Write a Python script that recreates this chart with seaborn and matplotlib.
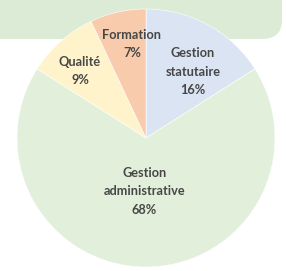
import matplotlib
matplotlib.use("Agg")
import matplotlib.pyplot as plt
from matplotlib.patches import FancyBboxPatch
import seaborn as sns

sns.set_theme(style="white")
plt.rcParams['font.family'] = ['Lato', 'DejaVu Sans']

categories = ["Gestion\nstatutaire", "Gestion\nadministrative", "Qualité", "Formation"]
values = [16, 68, 9, 7]
colors = ["#dbe4f3", "#e2efda", "#fff3cc", "#f8cbad"]
# label centres in pie-radius units (layout only)
label_pos = [(0.364, 0.512), (-0.012, -0.411), (-0.512, 0.519), (-0.109, 0.729)]

W, H = 286, 271
fig = plt.figure(figsize=(W / 100, H / 100), dpi=100)
fig.patch.set_facecolor("white")

# background rounded box (behind pie)
box = FancyBboxPatch((-30 / W, 1 - 39 / H), (282 + 30) / W, 60 / H,
                     boxstyle="round,pad=0,rounding_size=0.07",
                     transform=fig.transFigure, facecolor="#dcebd5",
                     edgecolor="none", zorder=-5)
fig.patches.append(box)

cx, cy, r = 146, 138, 129
ax = fig.add_axes([(cx - r) / W, (H - cy - r) / H, 2 * r / W, 2 * r / H])
ax.set_zorder(2)
ax.set_facecolor("none")
wedges, _ = ax.pie(values, colors=colors, startangle=90, counterclock=False,
                   radius=1, wedgeprops=dict(edgecolor="white", linewidth=0.4))
for cat, v, (lx, ly) in zip(categories, values, label_pos):
    ax.text(lx, ly, f"{cat}\n{v}%",
            ha="center", va="center", fontsize=9.2, color="#474747",
            fontweight="bold", linespacing=1.65)
ax.set_xlim(-1, 1)
ax.set_ylim(-1, 1)
ax.set_aspect("auto")
ax.axis("off")

fig.savefig("out.png", dpi=100)
